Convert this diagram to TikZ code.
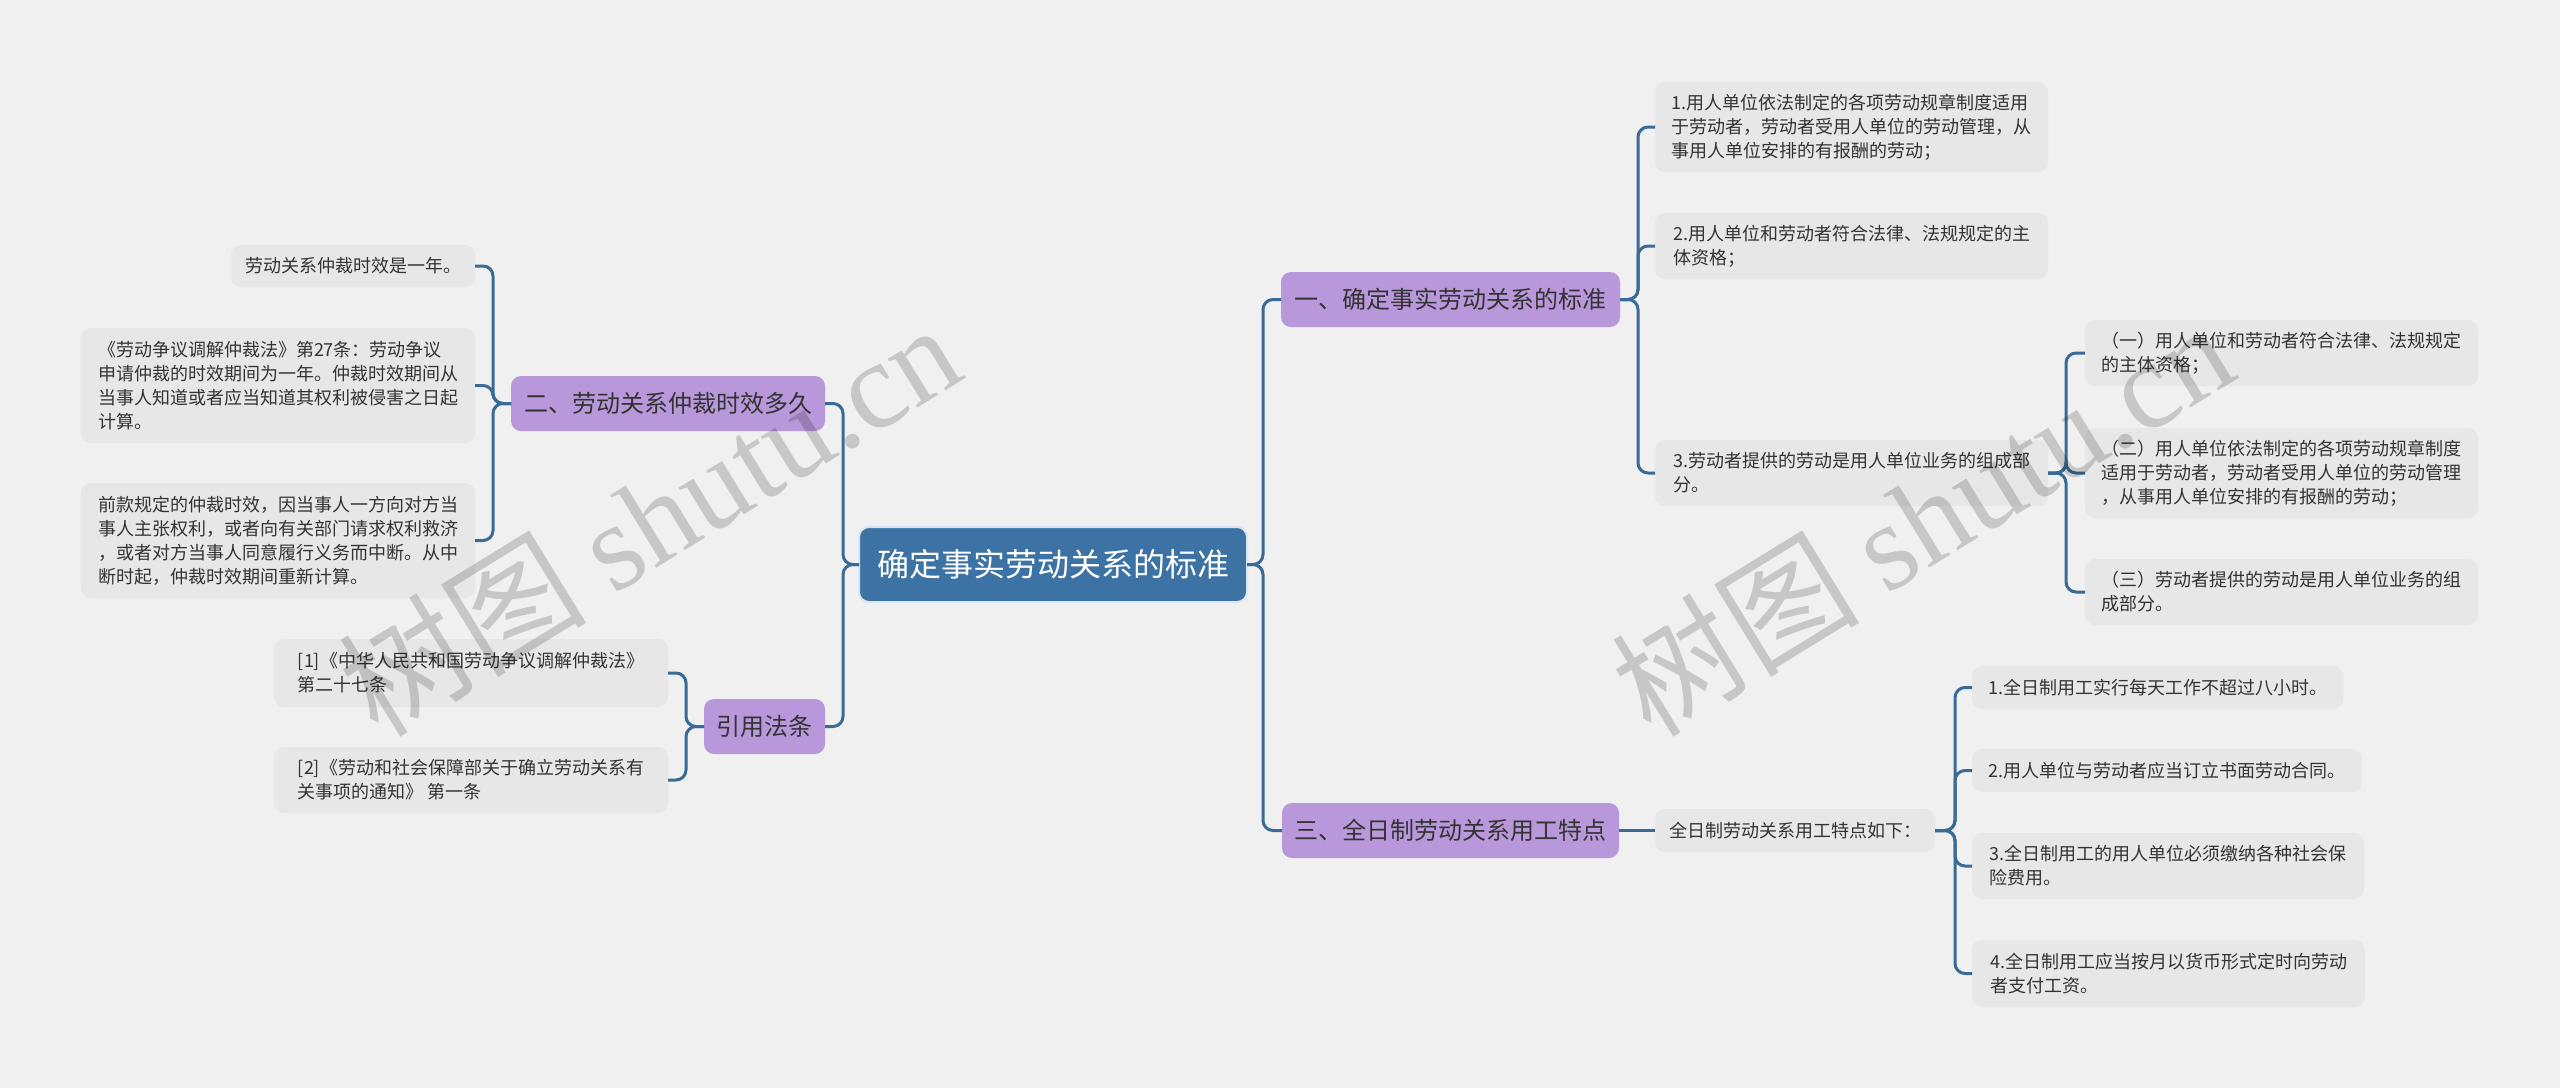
\documentclass[tikz,border=0pt]{standalone}
\usepackage{fontspec}
\setmainfont{Noto Sans CJK SC}
\newfontfamily\wmserif{Liberation Serif}
\definecolor{bgc}{HTML}{F0F0F0}
\definecolor{rootc}{HTML}{3C72A4}
\definecolor{rootedge}{HTML}{DCE6F0}
\definecolor{purp}{HTML}{B898DA}
\definecolor{leafc}{HTML}{E7E7E7}
\definecolor{linec}{HTML}{3A6B97}
\definecolor{txt}{HTML}{333333}
\begin{document}
\begin{tikzpicture}[x=0.5pt,y=-0.5pt,
  rootbox/.style={fill=rootc, draw=rootedge, line width=1pt, rounded corners=5pt, text=white,
    font=\fontsize{16}{19}\selectfont, inner sep=0pt, outer sep=0pt},
  topic/.style={fill=purp, rounded corners=5pt, text=txt, font=\fontsize{12}{15}\selectfont,
    inner sep=0pt, outer sep=0pt, minimum height=27.5pt},
  leaf/.style={fill=leafc, rounded corners=5pt, text=txt, font=\fontsize{9}{12}\selectfont,
    align=left, inner sep=0pt, outer sep=0pt},
  conn/.style={draw=linec, line width=1.5pt, rounded corners=5pt},
  wm/.style={text=black, opacity=0.17, rotate=31.6, inner sep=0pt}
]
\fill[bgc] (0,0) rectangle (2560,1088);
\useasboundingbox (0,0) rectangle (2560,1088);

% root
\node[rootbox, minimum width=194pt, minimum height=37.5pt] (root) at (1053,564.5) {确定事实劳动关系的标准};

% level 1
\node[topic, minimum width=157pt] (n2) at (668,403.5) {二、劳动关系仲裁时效多久};
\node[topic, minimum width=60.5pt] (ny) at (764.5,726.5) {引用法条};
\node[topic, minimum width=169.5pt] (n1) at (1450.5,299.5) {一、确定事实劳动关系的标准};
\node[topic, minimum width=168.5pt] (n3) at (1450.5,830.5) {三、全日制劳动关系用工特点};

% left leaves
\node[leaf, minimum width=122pt, minimum height=21pt] (La) at (353,266) {劳动关系仲裁时效是一年。};
\node[leaf, minimum width=197pt, minimum height=57.5pt] (Lb) at (278,385.5) {《劳动争议调解仲裁法》第27条：劳动争议\\申请仲裁的时效期间为一年。仲裁时效期间从\\当事人知道或者应当知道其权利被侵害之日起\\计算。};
\node[leaf, minimum width=197pt, minimum height=57.5pt] (Lc) at (278,540.5) {前款规定的仲裁时效，因当事人一方向对方当\\事人主张权利，或者向有关部门请求权利救济\\，或者对方当事人同意履行义务而中断。从中\\断时起，仲裁时效期间重新计算。};
\node[leaf, minimum width=197pt, minimum height=34pt] (R1) at (471,673) {[1]《中华人民共和国劳动争议调解仲裁法》\\第二十七条};
\node[leaf, minimum width=197pt, minimum height=33pt] (R2) at (471,780) {[2]《劳动和社会保障部关于确立劳动关系有\\关事项的通知》 第一条};

% right leaves of 一
\node[leaf, minimum width=196.5pt, minimum height=45pt] (A1) at (1851.5,127) {1.用人单位依法制定的各项劳动规章制度适用\\于劳动者，劳动者受用人单位的劳动管理，从\\事用人单位安排的有报酬的劳动；};
\node[leaf, minimum width=196.5pt, minimum height=33pt] (A2) at (1851.5,246) {2.用人单位和劳动者符合法律、法规规定的主\\体资格；};
\node[leaf, minimum width=196.5pt, minimum height=33pt] (A3) at (1851.5,473) {3.劳动者提供的劳动是用人单位业务的组成部\\分。};
\node[leaf, minimum width=196.5pt, minimum height=33pt] (B1) at (2281.5,353) {（一）用人单位和劳动者符合法律、法规规定\\的主体资格；};
\node[leaf, minimum width=196.5pt, minimum height=45pt] (B2) at (2281.5,473) {（二）用人单位依法制定的各项劳动规章制度\\适用于劳动者，劳动者受用人单位的劳动管理\\，从事用人单位安排的有报酬的劳动；};
\node[leaf, minimum width=196.5pt, minimum height=33pt] (B3) at (2281.5,592) {（三）劳动者提供的劳动是用人单位业务的组\\成部分。};

% right leaves of 三
\node[leaf, minimum width=140pt, minimum height=21.5pt] (C0) at (1795,830.5) {全日制劳动关系用工特点如下：};
\node[leaf, minimum width=185.5pt, minimum height=21.5pt] (C1) at (2157.5,687.5) {1.全日制用工实行每天工作不超过八小时。};
\node[leaf, minimum width=195pt, minimum height=21.5pt] (C2) at (2167,770.5) {2.用人单位与劳动者应当订立书面劳动合同。};
\node[leaf, minimum width=196pt, minimum height=33pt] (C3) at (2168,866) {3.全日制用工的用人单位必须缴纳各种社会保\\险费用。};
\node[leaf, minimum width=196.5pt, minimum height=33.5pt] (C4) at (2168.5,973.5) {4.全日制用工应当按月以货币形式定时向劳动\\者支付工资。};

% connectors: root
\draw[conn] (root.west) -- ++(-16,0) |- (n2.east);
\draw[conn] (root.west) -- ++(-16,0) |- (ny.east);
\draw[conn] (root.east) -- ++(16,0) |- (n1.west);
\draw[conn] (root.east) -- ++(16,0) |- (n3.west);
% 二
\draw[conn] (n2.west) -- ++(-18,0) |- (La.east);
\draw[conn] (n2.west) -- ++(-18,0) |- (Lb.east);
\draw[conn] (n2.west) -- ++(-18,0) |- (Lc.east);
% 引用法条
\draw[conn] (ny.west) -- ++(-18,0) |- (R1.east);
\draw[conn] (ny.west) -- ++(-18,0) |- (R2.east);
% 一
\draw[conn] (n1.east) -- ++(18,0) |- (A1.west);
\draw[conn] (n1.east) -- ++(18,0) |- (A2.west);
\draw[conn] (n1.east) -- ++(18,0) |- (A3.west);
% 3.
\draw[conn] (A3.east) -- ++(18,0) |- (B1.west);
\draw[conn] (A3.east) -- ++(18,0) |- (B2.west);
\draw[conn] (A3.east) -- ++(18,0) |- (B3.west);
% 三
\draw[conn] (n3.east) -- (C0.west);
\draw[conn] (C0.east) -- ++(20,0) |- (C1.west);
\draw[conn] (C0.east) -- ++(20,0) |- (C2.west);
\draw[conn] (C0.east) -- ++(20,0) |- (C3.west);
\draw[conn] (C0.east) -- ++(20,0) |- (C4.west);

% watermarks
\node[wm] (wm1) at (649,518) {\fontsize{62}{62}\selectfont 树图 \wmserif shutu.cn};
\node[wm] (wm2) at (1922,518) {\fontsize{62}{62}\selectfont 树图 \wmserif shutu.cn};
\end{tikzpicture}
\end{document}
